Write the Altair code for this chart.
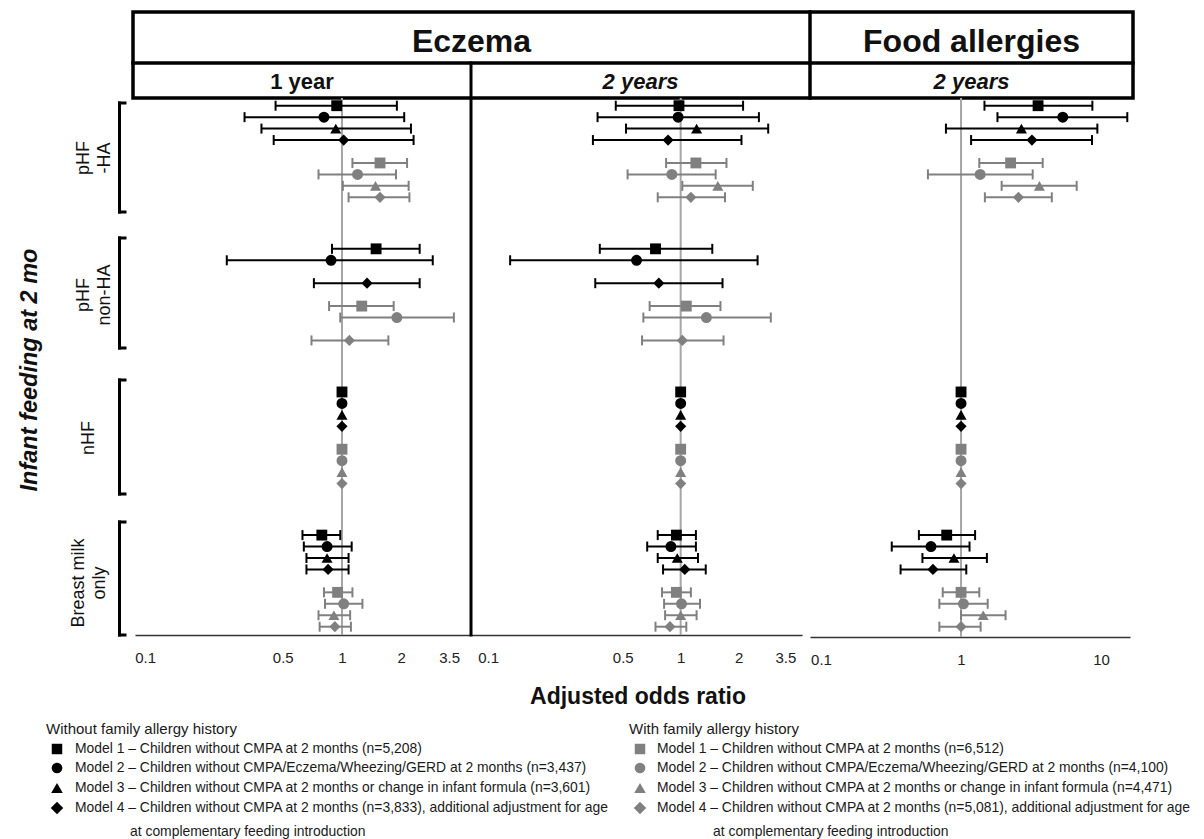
import altair as alt
import pandas as pd

# ------------------------------------------------------------------ data
groups = ["pHF-HA", "pHF non-HA", "nHF", "Breast milk only"]
models = ["Model 1", "Model 2", "Model 3", "Model 4"]
histories = ["Without family allergy history", "With family allergy history"]

# every list: 4 groups (pHF-HA, pHF non-HA, nHF, breast milk) x 4 models
# Eczema - 1 year
ecz1_without_or = [0.94, 0.81, 0.93, 1.02, 1.49, 0.88, None, 1.34, 1, 1, 1, 1, 0.79, 0.84, 0.84, 0.85]
ecz1_without_lo = [0.46, 0.32, 0.39, 0.45, 0.89, 0.26, None, 0.72, None, None, None, None, 0.63, 0.64, 0.66, 0.66]
ecz1_without_hi = [1.90, 2.07, 2.24, 2.31, 2.48, 2.89, None, 2.48, None, None, None, None, 0.98, 1.12, 1.08, 1.08]
ecz1_with_or = [1.56, 1.20, 1.48, 1.56, 1.26, 1.90, None, 1.09, 1, 1, 1, 1, 0.95, 1.02, 0.91, 0.92]
ecz1_with_lo = [1.13, 0.76, 1.01, 1.08, 0.86, 0.98, None, 0.70, None, None, None, None, 0.81, 0.82, 0.76, 0.77]
ecz1_with_hi = [2.14, 1.88, 2.18, 2.20, 1.83, 3.70, None, 1.72, None, None, None, None, 1.13, 1.27, 1.10, 1.11]
# Eczema - 2 years
ecz2_without_or = [0.98, 0.97, 1.21, 0.86, 0.74, 0.59, None, 0.77, 1, 1, 1, 1, 0.95, 0.89, 0.96, 1.05]
ecz2_without_lo = [0.46, 0.37, 0.52, 0.35, 0.38, 0.13, None, 0.36, None, None, None, None, 0.76, 0.67, 0.76, 0.81]
ecz2_without_hi = [2.11, 2.55, 2.85, 2.07, 1.46, 2.51, None, 1.65, None, None, None, None, 1.20, 1.20, 1.23, 1.35]
ecz2_with_or = [1.20, 0.90, 1.56, 1.13, 1.07, 1.36, None, 1.02, 1, 1, 1, 1, 0.95, 1.01, 1.00, 0.88]
ecz2_with_lo = [0.84, 0.53, 1.02, 0.76, 0.69, 0.64, None, 0.63, None, None, None, None, 0.80, 0.82, 0.83, 0.74]
ecz2_with_hi = [1.73, 1.52, 2.37, 1.70, 1.61, 2.94, None, 1.67, None, None, None, None, 1.13, 1.26, 1.21, 1.07]
# Food allergies - 2 years
fa2_without_or = [3.55, 5.33, 2.70, 3.21, None, None, None, None, 1, 1, 1, 1, 0.79, 0.61, 0.89, 0.63]
fa2_without_lo = [1.47, 1.82, 0.78, 1.18, None, None, None, None, None, None, None, None, 0.50, 0.32, 0.53, 0.37]
fa2_without_hi = [8.67, 15.4, 9.41, 8.62, None, None, None, None, None, None, None, None, 1.26, 1.15, 1.53, 1.09]
fa2_with_or = [2.26, 1.37, 3.63, 2.57, None, None, None, None, 1, 1, 1, 1, 1.00, 1.04, 1.44, 1.00]
fa2_with_lo = [1.35, 0.58, 1.95, 1.48, None, None, None, None, None, None, None, None, 0.74, 0.70, 1.00, 0.70]
fa2_with_hi = [3.83, 3.25, 6.70, 4.45, None, None, None, None, None, None, None, None, 1.35, 1.55, 2.08, 1.38]

ecz_ticks = [0.1, 0.5, 1, 2, 3.5]
fa_ticks = [0.1, 1, 10]

legend_without = [
    "Model 1 \u2013 Children without CMPA at 2 months (n=5,208)",
    "Model 2 \u2013 Children without CMPA/Eczema/Wheezing/GERD at 2 months (n=3,437)",
    "Model 3 \u2013 Children without CMPA at 2 months or change in infant formula (n=3,601)",
    "Model 4 \u2013 Children without CMPA at 2 months (n=3,833), additional adjustment for age",
]
legend_with = [
    "Model 1 \u2013 Children without CMPA at 2 months (n=6,512)",
    "Model 2 \u2013 Children without CMPA/Eczema/Wheezing/GERD at 2 months (n=4,100)",
    "Model 3 \u2013 Children without CMPA at 2 months or change in infant formula (n=4,471)",
    "Model 4 \u2013 Children without CMPA at 2 months (n=5,081), additional adjustment for age",
]
legend_cont = "at complementary feeding introduction"

FN = "Liberation Sans"


# ------------------------------------------------------------------ table
def build(or_w, lo_w, hi_w, or_g, lo_g, hi_g):
    rows = []
    for hi_idx, (o, l, h) in enumerate([(or_w, lo_w, hi_w), (or_g, lo_g, hi_g)]):
        for gi, g in enumerate(groups):
            for mi, m in enumerate(models):
                k = gi * 4 + mi
                if o[k] is None:
                    continue
                rows.append({
                    "group": g, "model": m, "history": histories[hi_idx],
                    "est": o[k], "lo": l[k], "hi": h[k],
                    "pos": gi * 12.5 + mi + 5 * hi_idx,
                })
    return pd.DataFrame(rows)


panels = [
    (build(ecz1_without_or, ecz1_without_lo, ecz1_without_hi, ecz1_with_or, ecz1_with_lo, ecz1_with_hi),
     [0.0889, 4.52], [127, 463], -188, ecz_ticks, 627),
    (build(ecz2_without_or, ecz2_without_lo, ecz2_without_hi, ecz2_with_or, ecz2_with_lo, ecz2_with_hi),
     [0.0814, 4.27], [463, 794], -188, ecz_ticks, 627),
    (build(fa2_without_or, fa2_without_lo, fa2_without_hi, fa2_with_or, fa2_with_lo, fa2_with_hi),
     [0.0834, 16.1], [802, 1122], -186, fa_ticks, 629),
]

W, H = 1188, 815
ys = alt.Scale(domain=[0, 45.5], range=[97.7, 618.7], nice=False, zero=False)
shape_scale = alt.Scale(domain=models, range=["square", "circle", "triangle-up", "diamond"])
color_scale = alt.Scale(domain=histories, range=["#000000", "#808080"])
size_scale = alt.Scale(domain=models, range=[118, 125, 135, 165])

dummy = pd.DataFrame({"a": [0]})
layers = []


def rule(x, y, x2=None, y2=None, w=3.0, color="black"):
    enc = {"x": alt.value(x), "y": alt.value(y)}
    enc["x2"] = alt.value(x2 if x2 is not None else x)
    enc["y2"] = alt.value(y2 if y2 is not None else y)
    return alt.Chart(dummy).mark_rule(color=color, strokeWidth=w, strokeCap="square").encode(**enc)


def text(t, x, y, size, weight="normal", style="normal", align="center", baseline="middle",
         angle=0, color="#111111", line_height=None):
    kw = dict(text=t, font=FN, fontSize=size, fontWeight=weight, fontStyle=style,
              align=align, baseline=baseline, color=color)
    if angle:
        kw["angle"] = angle
    if line_height:
        kw["lineHeight"] = line_height
    return alt.Chart(dummy).mark_text(**kw).encode(x=alt.value(x), y=alt.value(y))


# header box
layers.append(alt.Chart(dummy).mark_rect(fillOpacity=0, stroke="black", strokeWidth=3.5).encode(
    x=alt.value(125), x2=alt.value(1125), y=alt.value(4), y2=alt.value(90)))
layers.append(rule(125, 55, x2=1125, w=3.5))
layers.append(rule(802, 4, y2=90, w=3.5))
layers.append(rule(463, 55, y2=627, w=3))

layers.append(text("Eczema", 463.5, 43.5, 32, weight="bold", baseline="alphabetic"))
layers.append(text("Food allergies", 963.5, 43.5, 32, weight="bold", baseline="alphabetic"))
layers.append(text("1 year", 294, 81, 22, weight="bold", baseline="alphabetic"))
layers.append(text("2 years", 632.5, 81, 22, weight="bold", style="italic", baseline="alphabetic"))
layers.append(text("2 years", 963.5, 81, 22, weight="bold", style="italic", baseline="alphabetic"))

# left titles and brackets
layers.append(text("Infant feeding at 2 mo", 22, 362, 23.5, weight="bold", style="italic", angle=270))
layers.append(text(["pHF", "-HA"], 76, 150, 18, angle=270, line_height=21))
layers.append(text(["pHF", "non-HA"], 76, 287, 18, angle=270, line_height=21))
layers.append(text("nHF", 81, 430, 18, angle=270))
layers.append(text(["Breast milk", "only"], 71, 575, 18, angle=270, line_height=21))
for top, bot in [(95, 204), (230, 340), (372, 486), (514, 627)]:
    layers.append(rule(111.5, top, y2=bot, w=3))
    layers.append(rule(111.5, top, x2=117, w=3))
    layers.append(rule(111.5, bot, x2=117, w=3))

# x title
layers.append(text("Adjusted odds ratio", 630, 689, 23, weight="bold"))

# legend
leg_shapes = ["square", "circle", "triangle-up", "diamond"]
leg_sizes = [110, 115, 135, 155]
leg_y = [741, 760, 780, 800]
for col, (tx, mx, lx, cx, labels, colr) in enumerate([
        (38, 49, 67, 122, legend_without, "#000000"),
        (621, 632, 649, 705, legend_with, "#808080")]):
    layers.append(text(histories[col], tx, 721, 15, align="left", color="#1a1a1a"))
    for i in range(4):
        layers.append(alt.Chart(dummy).mark_point(
            shape=leg_shapes[i], filled=True, opacity=1, color=colr, size=leg_sizes[i], strokeWidth=0
        ).encode(x=alt.value(mx), y=alt.value(leg_y[i])))
        layers.append(text(labels[i], lx, leg_y[i], 13.9, align="left", color="#1a1a1a"))
    layers.append(text(legend_cont, cx, 824, 13.9, align="left", color="#1a1a1a"))

# data panels
for df, dom, rng, off, ticks, ybot in panels:
    xs = alt.Scale(type="log", domain=dom, range=rng, nice=False)
    axis = alt.Axis(orient="bottom", offset=off, values=ticks, format="~g", ticks=False, grid=False,
                    domainColor="#333333", domainWidth=1.5, labelFont=FN, labelFontSize=15,
                    labelColor="#222222", labelPadding=15, labelOverlap=False, labelFlush=False,
                    labelBound=False)
    ref = alt.Chart(pd.DataFrame({"v": [1]})).mark_rule(color="#a6a6a6", strokeWidth=2).encode(
        x=alt.X("v:Q", scale=xs, axis=axis, title=None),
        y=alt.value(90), y2=alt.value(ybot))
    base = alt.Chart(df)
    ci = base.transform_filter("isValid(datum.lo) && isValid(datum.hi)")
    bars = ci.mark_rule(strokeWidth=2).encode(
        x=alt.X("lo:Q", scale=xs, axis=None), x2="hi:Q",
        y=alt.Y("pos:Q", scale=ys, axis=None),
        color=alt.Color("history:N", scale=color_scale, legend=None))
    caps = ci.transform_fold(["lo", "hi"], as_=["end", "val"]).mark_point(
        shape="M0,-1L0,1", size=100, filled=False, strokeWidth=2, opacity=1).encode(
        x=alt.X("val:Q", scale=xs, axis=None),
        y=alt.Y("pos:Q", scale=ys, axis=None),
        color=alt.Color("history:N", scale=color_scale, legend=None))
    pts = base.mark_point(filled=True, opacity=1, strokeWidth=0).encode(
        x=alt.X("est:Q", scale=xs, axis=None),
        y=alt.Y("pos:Q", scale=ys, axis=None),
        shape=alt.Shape("model:N", scale=shape_scale, legend=None),
        size=alt.Size("model:N", scale=size_scale, legend=None),
        color=alt.Color("history:N", scale=color_scale, legend=None))
    layers += [ref, bars, caps, pts]

chart = alt.layer(*layers).resolve_scale(x="independent").properties(
    width=W, height=H, padding=0
).configure_view(stroke=None)

chart.save("out.html", embed_options={"renderer": "svg", "actions": False})
